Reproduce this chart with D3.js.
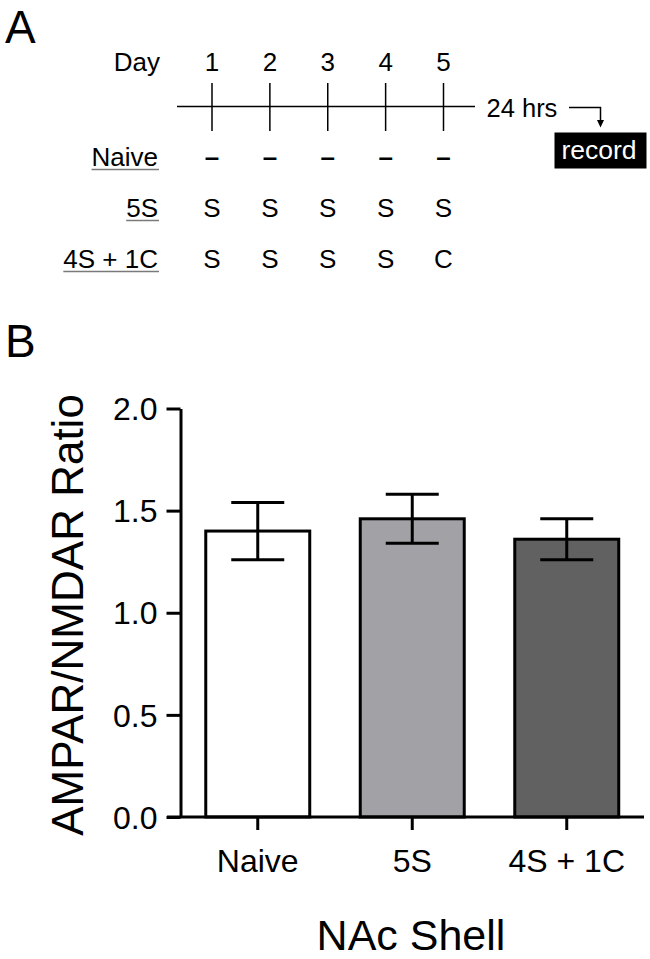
<!DOCTYPE html>
<html>
<head>
<meta charset="utf-8">
<script src="https://cdn.jsdelivr.net/npm/d3@7"></script>
<style>
  html, body { margin: 0; padding: 0; background: #fff; }
  svg { display: block; font-family: "Liberation Sans", Arial, Helvetica, sans-serif; }
</style>
</head>
<body>
<svg id="fig" width="650" height="959"></svg>
<script>
// ---------------- data ----------------
const categories = ["Naive", "5S", "4S + 1C"];
const means = [1.40, 1.46, 1.36];
const sems = [0.14, 0.12, 0.10];
const barColors = ["#ffffff", "#a2a2a6", "#616161"];
const yTicks = [0, 0.5, 1.0, 1.5, 2.0];

const days = ["1", "2", "3", "4", "5"];
const groups = ["Naive", "5S", "4S + 1C"];
const schedule = [
  ["–", "–", "–", "–", "–"],
  ["S", "S", "S", "S", "S"],
  ["S", "S", "S", "S", "C"]
];
const yAxisTitle = "AMPAR/NMDAR Ratio";
const xAxisTitle = "NAc Shell";

// ---------------- drawing ----------------
const svg = d3.select("#fig");

// Panel letters
svg.append("text").attr("x", 5).attr("y", 43).attr("font-size", 46).text("A");
svg.append("text").attr("x", 5).attr("y", 357).attr("font-size", 46).text("B");

// ---- Panel A: timeline ----
const dayX = d3.scalePoint().domain(days).range([212, 443.5]);
const A = svg.append("g");
const fsA = 26;

A.append("text").attr("x", 160).attr("y", 71).attr("text-anchor", "end")
  .attr("font-size", fsA).text("Day");
A.selectAll("text.day").data(days).join("text").attr("class", "day")
  .attr("x", d => dayX(d)).attr("y", 71).attr("text-anchor", "middle")
  .attr("font-size", fsA).text(d => d);

A.append("line").attr("x1", 177).attr("x2", 475).attr("y1", 106.5).attr("y2", 106.5)
  .attr("stroke", "#000").attr("stroke-width", 1.5);
A.selectAll("line.dt").data(days).join("line").attr("class", "dt")
  .attr("x1", d => dayX(d)).attr("x2", d => dayX(d)).attr("y1", 83).attr("y2", 131)
  .attr("stroke", "#000").attr("stroke-width", 1.5);

A.append("text").attr("x", 486.5).attr("y", 116.5).attr("font-size", 25.5).text("24 hrs");
A.append("path").attr("d", "M569,107.5H600.5V121").attr("fill", "none")
  .attr("stroke", "#000").attr("stroke-width", 1.5);
A.append("path").attr("d", "M597,120L604,120L600.5,127.5Z").attr("fill", "#000");
A.append("rect").attr("x", 554.5).attr("y", 132.5).attr("width", 92).attr("height", 36).attr("fill", "#000");
A.append("text").attr("x", 599).attr("y", 159).attr("text-anchor", "middle")
  .attr("font-size", 26.5).attr("fill", "#fff").text("record");

const rowY = d3.scalePoint().domain(groups).range([166, 268]);
groups.forEach((g, gi) => {
  const t = A.append("text").attr("x", 158).attr("y", rowY(g)).attr("text-anchor", "end")
    .attr("font-size", fsA).text(g);
  const w = t.node().getComputedTextLength();
  A.append("line").attr("x1", 158 - w).attr("x2", 159).attr("y1", rowY(g) + 3.5).attr("y2", rowY(g) + 3.5)
    .attr("stroke", "#7a7a7a").attr("stroke-width", 1.5);
  A.selectAll("text.cell" + gi).data(schedule[gi]).join("text").attr("class", "cell" + gi)
    .attr("x", (d, i) => dayX(days[i])).attr("y", rowY(g)).attr("text-anchor", "middle")
    .attr("font-size", fsA).attr("font-weight", d => d === "–" ? "bold" : "normal").text(d => d);
});

// ---- Panel B: bar chart ----
const x = d3.scaleBand().domain(categories).range([180.5, 644])
  .paddingInner(0.327).paddingOuter(0.1635);
const y = d3.scaleLinear().domain([0, 2]).range([817, 408.5]);
const B = svg.append("g");

B.selectAll("rect.bar").data(categories).join("rect").attr("class", "bar")
  .attr("x", d => x(d)).attr("width", x.bandwidth())
  .attr("y", (d, i) => y(means[i])).attr("height", (d, i) => y(0) - y(means[i]))
  .attr("fill", (d, i) => barColors[i]).attr("stroke", "#000").attr("stroke-width", 3);

const capW = 53;
const eb = B.selectAll("g.eb").data(categories).join("g").attr("class", "eb");
eb.append("line")
  .attr("x1", d => x(d) + x.bandwidth() / 2).attr("x2", d => x(d) + x.bandwidth() / 2)
  .attr("y1", (d, i) => y(means[i] + sems[i])).attr("y2", (d, i) => y(means[i] - sems[i]));
eb.append("line")
  .attr("x1", d => x(d) + x.bandwidth() / 2 - capW / 2).attr("x2", d => x(d) + x.bandwidth() / 2 + capW / 2)
  .attr("y1", (d, i) => y(means[i] + sems[i])).attr("y2", (d, i) => y(means[i] + sems[i]));
eb.append("line")
  .attr("x1", d => x(d) + x.bandwidth() / 2 - capW / 2).attr("x2", d => x(d) + x.bandwidth() / 2 + capW / 2)
  .attr("y1", (d, i) => y(means[i] - sems[i])).attr("y2", (d, i) => y(means[i] - sems[i]));
eb.selectAll("line").attr("stroke", "#000").attr("stroke-width", 3);

// Y axis
const yAx = B.append("g").attr("transform", "translate(180.5,0)")
  .call(d3.axisLeft(y).tickValues(yTicks).tickFormat(d3.format(".1f")).tickSize(14).tickSizeOuter(0).tickPadding(9));
yAx.attr("font-family", null);
yAx.select(".domain").attr("stroke-width", 3);
yAx.selectAll(".tick line").attr("stroke-width", 3);
yAx.selectAll(".tick text").attr("font-size", 32).attr("dy", "0.35em").attr("fill", "#000");

// X axis
const xAx = B.append("g").attr("transform", "translate(0,817)")
  .call(d3.axisBottom(x).tickSize(13).tickSizeOuter(0));
xAx.attr("font-family", null);
xAx.select(".domain").attr("stroke-width", 3).attr("d", "M167,0H644");
xAx.selectAll(".tick line").attr("stroke-width", 3);
xAx.selectAll(".tick text").attr("font-size", 32).attr("y", 55).attr("dy", 0).attr("fill", "#000");

// Axis titles
B.append("text").attr("transform", "translate(83,615) rotate(-90)")
  .attr("text-anchor", "middle").attr("font-size", 44).text(yAxisTitle);
B.append("text").attr("x", 411).attr("y", 950).attr("text-anchor", "middle")
  .attr("font-size", 43).text(xAxisTitle);
</script>
</body>
</html>
